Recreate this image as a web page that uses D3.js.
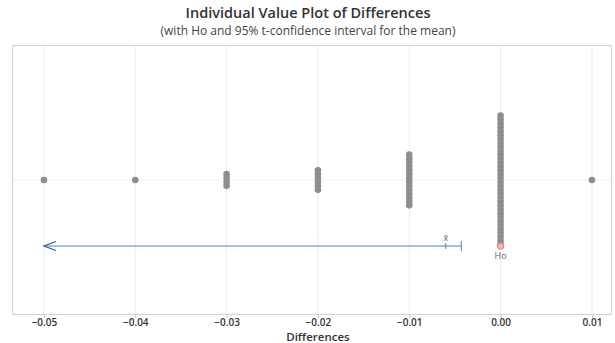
<!DOCTYPE html>
<html>
<head>
<meta charset="utf-8">
<script src="https://cdn.jsdelivr.net/npm/d3@7"></script>
<style>
  html, body { margin: 0; padding: 0; background: #fff; }
  svg { display: block; font-family: "Open Sans", "Noto Sans", sans-serif; }
</style>
</head>
<body>
<svg id="chart" width="615" height="343"></svg>
<script>
// Paired differences: distinct values and how many observations share each
const diffValues = [-0.05, -0.04, -0.03, -0.02, -0.01, 0.00, 0.01];
const diffCounts = [1, 1, 4, 6, 14, 34, 1];
const tickValues = [-0.05, -0.04, -0.03, -0.02, -0.01, 0.00, 0.01];

// Summary statistics shown on the plot
const sampleMean = -0.0060;
const upperBound = -0.0043;   // 95% upper t-bound for the mean
const hypothesized = 0.00;    // Ho

const titleText = "Individual Value Plot of Differences";
const subtitleText = "(with Ho and 95% t-confidence interval for the mean)";
const xTitle = "Differences";

const svg = d3.select("#chart");
const frame = { left: 12, top: 45, right: 612, bottom: 315 };

const x = d3.scaleLinear()
  .domain([-0.0535, 0.0122])
  .range([frame.left, frame.right]);

const midY = 180;
const ciY = 246;
const dotStep = 3.9;
const dotR = 3.3;

// Frame
svg.append("rect")
  .attr("x", frame.left + 0.5).attr("y", frame.top + 0.5)
  .attr("width", frame.right - frame.left - 1)
  .attr("height", frame.bottom - frame.top - 1)
  .attr("fill", "none").attr("stroke", "#d4d4d4").attr("stroke-width", 1.2);

// Gridlines
svg.append("g").selectAll("line").data(tickValues).join("line")
  .attr("x1", d => x(d)).attr("x2", d => x(d))
  .attr("y1", frame.top + 1).attr("y2", frame.bottom - 1)
  .attr("stroke", "#ececec").attr("stroke-width", 1);
svg.append("line")
  .attr("x1", frame.left + 1).attr("x2", frame.right - 1)
  .attr("y1", midY).attr("y2", midY)
  .attr("stroke", "#f0f0f0").attr("stroke-width", 1);

// Bottom axis
const axis = d3.axisBottom(x)
  .tickValues(tickValues)
  .tickFormat(d3.format(".2f"))
  .tickSize(3)
  .tickSizeOuter(0);
const gAxis = svg.append("g")
  .attr("transform", `translate(0,${frame.bottom})`)
  .call(axis);
gAxis.select(".domain").remove();
gAxis.selectAll(".tick line").attr("stroke", "#c8c8c8");
gAxis.selectAll(".tick text")
  .attr("y", 4)
  .attr("fill", "#333")
  .attr("font-size", 10)
  .attr("font-weight", 600)
  .attr("font-family", "'Open Sans', sans-serif");

// Individual values, stacked around the centre line
const points = [];
diffValues.forEach((v, i) => {
  const n = diffCounts[i];
  for (let k = 0; k < n; k++) {
    points.push({ value: v, y: midY + (k - (n - 1) / 2) * dotStep });
  }
});
svg.append("g").selectAll("circle").data(points).join("circle")
  .attr("cx", d => x(d.value))
  .attr("cy", d => d.y)
  .attr("r", dotR)
  .attr("fill", "#8e8e8e");

// Confidence bound: arrow toward the lower end, bar at the upper bound
const blue = "#4f81bd";
svg.append("line")
  .attr("x1", x(-0.05)).attr("x2", x(upperBound))
  .attr("y1", ciY).attr("y2", ciY)
  .attr("stroke", blue).attr("stroke-width", 1);
svg.append("path")
  .attr("d", `M${x(-0.05) + 12},${ciY - 4.5} L${x(-0.05)},${ciY} L${x(-0.05) + 12},${ciY + 4.5}`)
  .attr("fill", "none").attr("stroke", "#2f5f9f").attr("stroke-width", 1.3);
svg.append("line")
  .attr("x1", x(upperBound)).attr("x2", x(upperBound))
  .attr("y1", ciY - 5).attr("y2", ciY + 5)
  .attr("stroke", blue).attr("stroke-width", 1);

// Mean marker
svg.append("line")
  .attr("x1", x(sampleMean)).attr("x2", x(sampleMean))
  .attr("y1", ciY - 3).attr("y2", ciY + 3)
  .attr("stroke", blue).attr("stroke-width", 1);
svg.append("text")
  .attr("x", x(sampleMean)).attr("y", ciY - 5)
  .attr("text-anchor", "middle")
  .attr("font-size", 9).attr("fill", "#666")
  .text("x̄");

// Hypothesized value
svg.append("circle")
  .attr("cx", x(hypothesized)).attr("cy", ciY)
  .attr("r", 3.3)
  .attr("fill", "#f2b8b0").attr("stroke", "#e0685c").attr("stroke-width", 0.8);
svg.append("text")
  .attr("x", x(hypothesized)).attr("y", ciY + 13)
  .attr("text-anchor", "middle")
  .attr("font-size", 9).attr("fill", "#666")
  .text("Ho");

// Titles
svg.append("text")
  .attr("x", 308).attr("y", 18)
  .attr("text-anchor", "middle")
  .attr("font-size", 14.5).attr("font-weight", 600).attr("fill", "#333")
  .text(titleText);
svg.append("text")
  .attr("x", 308).attr("y", 35)
  .attr("text-anchor", "middle")
  .attr("font-size", 12).attr("fill", "#444")
  .text(subtitleText);
svg.append("text")
  .attr("x", x(-0.02)).attr("y", 341)
  .attr("text-anchor", "middle")
  .attr("font-size", 11.5).attr("font-weight", 600).attr("fill", "#333")
  .text(xTitle);
</script>
</body>
</html>
